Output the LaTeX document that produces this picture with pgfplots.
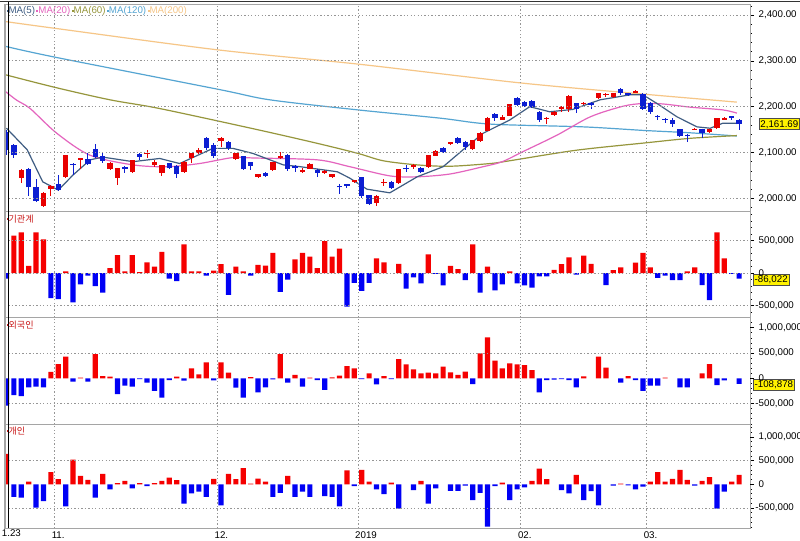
\documentclass[border=0pt]{standalone}
\usepackage{pgfplots}
\pgfplotsset{compat=1.18}
\usepackage{pgfplotstable}
\usepackage{fontspec}
\setmainfont{Liberation Sans}
\newfontfamily\kr{Noto Sans CJK KR}

\definecolor{cred}{RGB}{232,0,0}
\definecolor{cblue}{RGB}{12,30,210}
\definecolor{bred}{RGB}{245,0,0}
\definecolor{bblue}{RGB}{0,0,245}
\definecolor{ma5}{RGB}{62,92,130}
\definecolor{ma20}{RGB}{228,100,190}
\definecolor{ma60}{RGB}{150,150,60}
\definecolor{ma120}{RGB}{85,165,210}
\definecolor{ma200}{RGB}{246,198,135}
\definecolor{gridc}{RGB}{150,150,150}
\definecolor{framec}{RGB}{165,165,165}
\definecolor{lbl}{RGB}{200,20,20}

\newcommand{\tf}{\fontsize{7.3}{8}\selectfont}

% up (red) candles: index open high low close
\pgfplotstableread{
i o h l c
2 2044 2063 2033 2062
5 1983 2013 1982 2012
6 2020 2028 2004 2027
8 2046 2095 2044 2094
10 2084 2088 2065 2088
14 2063 2080 2061 2078
15 2045 2067 2029 2066
17 2058 2084 2056 2083
19 2097 2106 2089 2099
20 2072 2083 2069 2080
21 2056 2073 2048 2072
24 2058 2081 2056 2080
25 2089 2100 2077 2098
26 2100 2109 2096 2105
29 2126 2133 2113 2131
31 2085 2100 2083 2100
34 2047 2052 2044 2052
36 2062 2080 2060 2079
37 2087 2101 2085 2092
40 2057 2066 2055 2062
41 2065 2077 2064 2076
43 2055 2061 2053 2060
44 2047 2053 2045 2052
47 2035 2041 2033 2040
50 1990 2007 1983 2006
51 2033 2042 2027 2036
53 2033 2064 2031 2063
55 2068 2075 2064 2072
57 2068 2095 2066 2094
58 2093 2105 2092 2104
60 2118 2123 2116 2122
63 2107 2128 2105 2127
64 2126 2144 2124 2143
65 2148 2177 2146 2176
67 2171 2181 2170 2178
68 2180 2206 2179 2205
73 2173 2177 2163 2176
74 2182 2190 2180 2189
75 2196 2201 2189 2200
76 2194 2225 2188 2224
78 2206 2210 2203 2209
80 2218 2230 2217 2229
81 2225 2231 2222 2228
82 2222 2230 2220 2229
85 2231 2236 2229 2234
93 2150 2153 2149 2152
95 2145 2152 2142 2151
96 2153 2176 2152 2175
97 2172 2178 2171 2175
}\upc

% down (blue) candles
\pgfplotstableread{
i o h l c
0 2145 2150 2094 2106
1 2116 2118 2089 2095
3 2064 2066 2004 2024
4 2024 2042 1993 1994
7 2031 2050 2015 2019
9 2076 2077 2050 2073
11 2086 2098 2074 2075
12 2107 2118 2089 2091
13 2092 2099 2077 2082
16 2068 2070 2055 2065
18 2097 2099 2083 2091
22 2077 2078 2063 2066
23 2071 2072 2044 2053
27 2132 2133 2105 2110
28 2116 2120 2089 2092
30 2124 2126 2105 2109
32 2092 2093 2062 2063
33 2079 2080 2061 2071
35 2056 2057 2047 2049
38 2095 2097 2060 2065
39 2071 2073 2057 2066
42 2062 2063 2046 2056
45 2027 2032 2010 2024
46 2031 2031 2022 2027
48 2046 2047 2000 2005
49 2007 2008 1987 1988
52 2036 2037 2021 2022
54 2067 2072 2057 2064
56 2067 2068 2056 2057
59 2109 2111 2098 2102
61 2132 2133 2120 2121
62 2124 2126 2106 2113
66 2183 2186 2168 2175
69 2220 2221 2203 2204
70 2211 2213 2200 2202
71 2213 2214 2197 2199
72 2189 2190 2167 2172
77 2207 2208 2186 2194
79 2208 2211 2194 2204
83 2238 2240 2226 2231
84 2229 2231 2224 2225
86 2228 2231 2193 2195
87 2209 2210 2185 2189
88 2180 2181 2170 2177
89 2174 2175 2165 2171
90 2171 2175 2155 2162
91 2151 2152 2135 2136
92 2138 2141 2124 2135
94 2151 2152 2131 2143
98 2179 2180 2170 2176
99 2170 2174 2149 2161.69
}\dnc

% institutions
\pgfplotstableread{
i v
0 -85000
1 575000
2 625000
3 110000
4 625000
5 515000
6 -385000
7 -400000
8 25000
9 -450000
10 -175000
11 -40000
12 -200000
13 -300000
14 75000
15 275000
16 25000
17 275000
18 15000
19 165000
20 100000
21 325000
22 -85000
23 -125000
24 440000
25 25000
26 25000
27 -40000
28 35000
29 135000
30 -335000
31 100000
32 25000
33 -40000
34 125000
35 115000
36 310000
37 -290000
38 -100000
39 210000
40 310000
41 250000
42 75000
43 490000
44 250000
45 375000
46 -515000
47 -150000
48 -275000
49 -150000
50 225000
51 165000
53 140000
54 -240000
55 -65000
56 -160000
57 285000
58 -15000
59 -190000
60 110000
61 60000
62 -110000
63 440000
64 -300000
65 100000
66 -265000
67 -175000
68 25000
69 -160000
70 -190000
71 -225000
72 -50000
73 -50000
74 50000
75 135000
76 240000
77 -25000
78 265000
79 140000
81 -185000
82 45000
83 85000
85 160000
86 310000
87 85000
88 -75000
89 -40000
90 -110000
91 -110000
92 25000
93 85000
94 -185000
95 -415000
96 625000
97 225000
98 -15000
99 -86022
}\inst

% foreigners
\pgfplotstableread{
i v
0 -540000
1 -330000
2 -350000
3 -178000
4 -165000
5 -178000
6 130000
7 283000
8 428000
9 -65000
10 15000
11 -65000
12 480000
13 46000
14 33000
15 -310000
16 -145000
17 -165000
18 -15000
19 -85000
20 -250000
21 -380000
22 -33000
23 33000
24 -46000
25 197000
26 79000
27 316000
28 -40000
29 316000
30 112000
31 -184000
32 -380000
33 26000
34 -276000
35 -178000
36 -20000
37 480000
38 -85000
39 66000
40 -165000
41 15000
42 -33000
43 -230000
44 20000
45 53000
46 243000
47 197000
48 -15000
49 99000
50 -118000
51 46000
52 -15000
53 380000
54 276000
55 178000
56 99000
57 112000
58 99000
59 230000
60 118000
61 66000
62 132000
63 -112000
64 493000
65 809000
66 349000
67 197000
68 296000
69 276000
70 263000
71 164000
72 -276000
73 -33000
74 -26000
75 -15000
76 -33000
77 -178000
78 40000
80 428000
81 210000
83 -85000
84 46000
85 -33000
86 -250000
87 -145000
88 -145000
89 15000
91 -178000
92 -178000
94 99000
95 283000
96 -132000
97 -40000
99 -108878
}\frgn

% individuals
\pgfplotstableread{
i v
0 643000
1 -264000
2 -279000
3 57000
4 -493000
5 -357000
6 257000
7 107000
8 -464000
9 521000
10 179000
11 93000
12 -279000
13 221000
14 -107000
15 25000
16 71000
17 -86000
18 25000
19 -36000
20 25000
21 71000
22 143000
23 86000
24 -407000
25 -193000
26 -157000
27 -264000
28 114000
29 -443000
30 221000
31 107000
32 343000
33 15000
34 121000
35 57000
36 -264000
37 -179000
38 179000
39 -264000
40 -157000
41 -264000
43 -250000
44 -264000
45 -464000
46 293000
47 -36000
48 307000
49 57000
50 -107000
51 -207000
52 36000
53 -514000
55 -121000
56 71000
57 -407000
58 -86000
60 -136000
61 -136000
62 -29000
63 -336000
64 -179000
65 -893000
66 -36000
67 36000
68 -336000
69 -107000
70 -64000
71 71000
72 329000
73 107000
75 -121000
76 -193000
77 200000
78 -336000
79 -143000
80 -443000
82 -29000
83 14000
84 -21000
85 -107000
86 -50000
87 57000
88 257000
89 57000
90 114000
91 307000
92 93000
93 -29000
94 71000
95 150000
96 -514000
97 -157000
98 57000
99 200000
}\indv

\pgfplotsset{
  panel/.style={
    scale only axis, width=558.75pt,
    xmin=-0.2, xmax=100.47,
    axis line style={draw=framec, line width=0.75pt},
    xtick={6.5,28.5,47.5,69.5,86.5}, xticklabels={},
    xmajorgrids, xtick style={draw=none},
    grid style={gridc, line width=0.6pt, dash pattern=on 1pt off 1.6pt},
    ytick pos=right, yticklabel pos=right,
    tick align=outside,
    major tick length=3pt, minor tick length=1.6pt,
    ytick style={black, line width=0.5pt},
    minor y tick style={black, line width=0.5pt},
    yticklabel style={font=\tf, anchor=west},
    scaled y ticks=false,
    clip mode=individual,
    axis on top,
  },
  barpanel/.style={
    panel,
    minor ytick={-900000,-800000,...,1300000},
  },
}

\newcommand{\bars}[1]{%
  \addplot[ybar, bar width=3.9pt, bar shift=0pt, fill=bred, draw=none,
    restrict y to domain=0:5000000] table[x=i,y=v] {#1};
  \addplot[ybar, bar width=3.9pt, bar shift=0pt, fill=bblue, draw=none,
    restrict y to domain=-5000000:0] table[x=i,y=v] {#1};
  \draw[black, line width=0.75pt] (rel axis cs:1,0) -- (rel axis cs:1,1);
}

\begin{document}
\begin{tikzpicture}
\path[use as bounding box] (0,0) rectangle (600pt,-405pt);
\fill[white] (0,0) rectangle (600pt,-405pt);

% ---------- price panel ----------
\begin{axis}[panel, at={(3.75pt,-3pt)}, anchor=north west, height=155.8pt,
  ymin=1970.7, ymax=2424.2,
  ytick={2000,2100,2200,2300,2400},
  yticklabels={{2,000.00},{2,100.00},{2,200.00},{2,300.00},{2,400.00}},
  minor ytick={1980,2000,...,2420},
  ymajorgrids]
\addplot[ma200, line width=0.9pt, smooth] coordinates {
(-0.2,2386) (6.6,2371) (28.6,2324) (47.5,2293) (69.4,2252) (86.4,2227) (98.7,2210)};
\addplot[ma120, line width=0.9pt, smooth] coordinates {
(-0.2,2332) (6.6,2308) (28.6,2238) (35.6,2215) (47.5,2193) (58.6,2175) (65.4,2162) (77.9,2156) (86.3,2148) (92.4,2143) (98.7,2136)};
\addplot[ma60, line width=0.9pt, smooth] coordinates {
(-0.2,2270) (6.6,2242) (14,2215) (20.7,2196) (33.6,2151) (42,2120) (47.5,2098) (50.9,2082) (55.5,2073) (59.9,2070) (65.4,2076) (68,2082) (77,2105) (86.3,2121) (92.4,2131) (98.7,2137)};
\addplot[ma20, line width=0.9pt, smooth] coordinates {
(-0.2,2234) (1.4,2214) (3.2,2196) (6.8,2142) (11.3,2094) (17.1,2073) (21.7,2069) (26.1,2076) (30.6,2089) (33.5,2088) (42,2084) (46.4,2069) (51.8,2049) (55.5,2047) (59.9,2053) (64.4,2069) (67,2080) (69.8,2102) (74.4,2138) (78.9,2178) (83.3,2201) (86,2207) (88.7,2206) (92.4,2199) (96.8,2193) (98.7,2186)};
\addplot[ma5, line width=0.9pt] coordinates {
(0,2153) (2.8,2106) (4.9,2036) (7,2018) (9,2051) (11.3,2084) (13,2090) (17.1,2080) (20.7,2087) (23.4,2076) (27.9,2109) (30.6,2109) (33.3,2098) (37.4,2073) (39.7,2069) (44.7,2058) (46.4,2044) (48.7,2020) (51.8,2012) (55.5,2047) (59,2069) (61.7,2106) (64.4,2142) (68,2171) (70.7,2200) (73.4,2189) (76.5,2194) (80.2,2215) (84.3,2226) (86,2226) (87.9,2207) (90.6,2178) (93.3,2156) (95.1,2153) (96.8,2164) (98.7,2164)};
% wicks
\addplot[draw=none, mark=none, forget plot, error bars/.cd, y dir=both, y explicit,
  error mark=none, error bar style={line width=0.75pt, draw=cred, solid}]
  table[x=i, y=c, y error plus expr={\thisrow{h}-\thisrow{c}}, y error minus expr={\thisrow{c}-\thisrow{l}}] {\upc};
\addplot[draw=none, mark=none, forget plot, error bars/.cd, y dir=both, y explicit,
  error mark=none, error bar style={line width=0.75pt, draw=cblue, solid}]
  table[x=i, y=c, y error plus expr={\thisrow{h}-\thisrow{c}}, y error minus expr={\thisrow{c}-\thisrow{l}}] {\dnc};
% bodies
\addplot[draw=none, mark=none, forget plot, error bars/.cd, y dir=minus, y explicit,
  error mark=none, error bar style={line width=4.1pt, draw=cred, solid}]
  table[x=i, y=c, y error minus expr={max(\thisrow{c}-\thisrow{o},1.5)}] {\upc};
\addplot[draw=none, mark=none, forget plot, error bars/.cd, y dir=plus, y explicit,
  error mark=none, error bar style={line width=4.1pt, draw=cblue, solid}]
  table[x=i, y=c, y error plus expr={max(\thisrow{o}-\thisrow{c},1.5)}] {\dnc};
\draw[black, line width=0.75pt] (rel axis cs:1,0) -- (rel axis cs:1,1);
\node[anchor=north west, inner sep=0pt, font=\tf] at (rel axis cs:0,1) [xshift=1pt, yshift=-1.8pt]
 {\textcolor{ma5}{\raisebox{1.6pt}{\rule{1.5pt}{1.5pt}}MA(5)}\hspace{1pt}%
  \textcolor{ma20}{\raisebox{1.6pt}{\rule{1.5pt}{1.5pt}}MA(20)}\hspace{1pt}%
  \textcolor{ma60}{\raisebox{1.6pt}{\rule{1.5pt}{1.5pt}}MA(60)}\hspace{1pt}%
  \textcolor{ma120}{\raisebox{1.6pt}{\rule{1.5pt}{1.5pt}}MA(120)}\hspace{1pt}%
  \textcolor{ma200}{\raisebox{1.6pt}{\rule{1.5pt}{1.5pt}}MA(200)}};
\node[anchor=west, fill=yellow, draw=black!70, line width=0.4pt, inner sep=1.1pt, font=\tf]
  at (axis cs:100.47,2161.69) [xshift=6.5pt] {2,161.69};
\end{axis}

% ---------- institutions ----------
\begin{axis}[barpanel, at={(3.75pt,-158.8pt)}, anchor=north west, height=79.5pt,
  ymin=-686000, ymax=940000,
  ytick={-500000,0,500000},
  yticklabels={{\llap{-}500,000},0,{500,000}},
  ymajorgrids]
\bars{\inst}
\node[anchor=north west, inner sep=0pt, font=\kr\fontsize{6.8}{7}\selectfont, text=lbl]
  at (rel axis cs:0,1) [xshift=1pt, yshift=-2pt] {\raisebox{1.8pt}{\rule{1.5pt}{1.5pt}}기관계};
\node[anchor=west, fill=yellow, draw=black!70, line width=0.4pt, inner sep=1.1pt, font=\tf]
  at (axis cs:100.47,-86022) [xshift=2.2pt, yshift=-1pt] {-86,022};
\end{axis}

% ---------- foreigners ----------
\begin{axis}[barpanel, at={(3.75pt,-238.3pt)}, anchor=north west, height=79.7pt,
  ymin=-903000, ymax=1198000,
  ytick={-500000,500000},
  yticklabels={{\llap{-}500,000},{500,000}},
  extra y ticks={0,1000000}, extra y tick labels={0,{1,000,000}},
  extra y tick style={grid=none},
  ymajorgrids]
\bars{\frgn}
\node[anchor=north west, inner sep=0pt, font=\kr\fontsize{6.8}{7}\selectfont, text=lbl]
  at (rel axis cs:0,1) [xshift=1pt, yshift=-2pt] {\raisebox{1.8pt}{\rule{1.5pt}{1.5pt}}외국인};
\node[anchor=west, fill=yellow, draw=black!70, line width=0.4pt, inner sep=1.1pt, font=\tf]
  at (axis cs:100.47,-108878) [xshift=2.2pt, yshift=-1pt] {-108,878};
\end{axis}

% ---------- individuals ----------
\begin{axis}[barpanel, at={(3.75pt,-318pt)}, anchor=north west, height=78pt,
  ymin=-922000, ymax=1272000,
  ytick={-500000,500000},
  yticklabels={{\llap{-}500,000},{500,000}},
  extra y ticks={0,1000000}, extra y tick labels={0,{1,000,000}},
  extra y tick style={grid=none},
  ymajorgrids,
  xticklabels={11.,12.,2019,02.,03.},
  xticklabel style={font=\tf, anchor=north west, inner sep=0pt, xshift=-2.3pt, yshift=0.3pt}]
\bars{\indv}
\node[anchor=north west, inner sep=0pt, font=\kr\fontsize{6.8}{7}\selectfont, text=lbl]
  at (rel axis cs:0,1) [xshift=1pt, yshift=-2pt] {\raisebox{1.8pt}{\rule{1.5pt}{1.5pt}}개인};
\node[anchor=north west, inner sep=0pt, font=\tf] at (rel axis cs:0,0) [xshift=-2.5pt, yshift=-1.3pt] {1.23};
\end{axis}

% frame decorations
\draw[black!80, line width=1pt] (0,-1.2pt) -- (600pt,-1.2pt);
\draw[black, line width=0.7pt] (6.2pt,-1.5pt) -- (6.2pt,-396pt);
\end{tikzpicture}
\end{document}
